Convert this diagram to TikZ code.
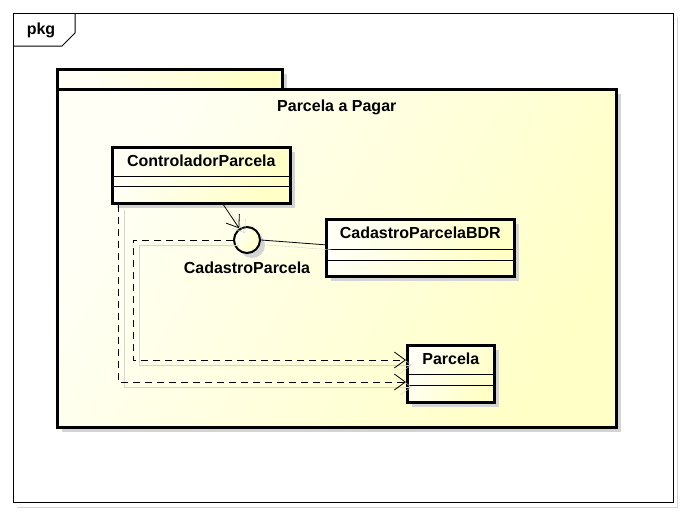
\documentclass[tikz,border=0pt]{standalone}
\usepackage{fontspec}
\setmainfont{Liberation Sans}
\usepackage{tikz}
\usetikzlibrary{arrows.meta, shadows, positioning}

\definecolor{pkgLight}{HTML}{FFFFF6}
\definecolor{pkgDark}{HTML}{FFFFC6}
\definecolor{shadowGray}{HTML}{D4D4D4}

\tikzset{
    umlfont/.style={font=\fontsize{16}{19}\selectfont\bfseries},
    yellowfill/.style={left color=pkgLight, right color=pkgDark, shading angle=60},
    boxshadow/.style={drop shadow={shadow xshift=5pt, shadow yshift=-5pt, fill=shadowGray, opacity=1}},
    classbox/.style={rectangle, draw, line width=2.6pt, yellowfill, boxshadow, inner sep=0pt},
    classname/.style={umlfont, inner sep=0pt, minimum height=30pt},
    lineshadow/.style={preaction={draw=shadowGray, solid, transform canvas={xshift=6pt, yshift=-5pt}}},
    assoc/.style={line width=0.8pt, -{Straight Barb[length=11pt, width=16pt]}},
    dep/.style={line width=0.8pt, dash pattern=on 7pt off 5pt, -{Straight Barb[length=11pt, width=16pt]}, lineshadow},
}

\begin{document}
\begin{tikzpicture}[x=1pt, y=-1pt]
    \useasboundingbox (0,0) rectangle (685,514);
    \fill[white] (0,0) rectangle (685,514);

    % frame
    \draw[shadowGray, line width=0.8pt] (677,17) -- (677,507) -- (17,507);
    \node[draw, line width=1pt, minimum width=660pt, minimum height=489pt, anchor=north west, fill=white] (frame) at (13,13) {};
    \draw[line width=1pt] (frame.north west) ++(0,33) -- ++(49,0) -- ++(13,-13) -- ++(0,-20);
    \node[umlfont] (pkglbl) at (41,30) {pkg};

    % package
    \node[draw, line width=2.6pt, yellowfill, boxshadow, minimum width=225pt, minimum height=20pt, anchor=north west] (pkgtab) at (56,68) {};
    \node[draw, line width=2.6pt, yellowfill, boxshadow, minimum width=559pt, minimum height=338pt, anchor=north west] (pkgbody) at (56,88) {};
    \node[umlfont, below=8pt of pkgbody.north] (pkgname) {Parcela a Pagar};

    % classes
    \node[classbox, minimum width=178pt, minimum height=56pt, anchor=north west] (ctrl) at (111,146) {};
    \node[classname, anchor=north] (ctrlname) at (ctrl.north) {ControladorParcela};
    \draw[line width=0.8pt] ([yshift=-30pt]ctrl.north west) -- ([yshift=-30pt]ctrl.north east);
    \draw[line width=0.8pt] ([yshift=-40pt]ctrl.north west) -- ([yshift=-40pt]ctrl.north east);

    \node[classbox, minimum width=188pt, minimum height=57pt, anchor=north west] (bdr) at (325,218) {};
    \node[classname, anchor=north] (bdrname) at (bdr.north) {CadastroParcelaBDR};
    \draw[line width=0.8pt] ([yshift=-31pt]bdr.north west) -- ([yshift=-31pt]bdr.north east);
    \draw[line width=0.8pt] ([yshift=-42pt]bdr.north west) -- ([yshift=-42pt]bdr.north east);

    \node[classbox, minimum width=87pt, minimum height=57pt, anchor=north west] (parcela) at (406,344) {};
    \node[classname, anchor=north] (parcelaname) at (parcela.north) {Parcela};
    \draw[line width=0.8pt] ([yshift=-30pt]parcela.north west) -- ([yshift=-30pt]parcela.north east);
    \draw[line width=0.8pt] ([yshift=-41pt]parcela.north west) -- ([yshift=-41pt]parcela.north east);

    % interface
    \node[circle, draw, line width=2pt, yellowfill, boxshadow, minimum size=26pt, inner sep=0pt] (iface) at (247,240) {};
    \node[umlfont, below=4pt of iface] (ifacename) {CadastroParcela};

    % connectors
    \coordinate (bendA) at (133,360);
    \coordinate (bendB) at (118,382);

    \draw[line width=0.8pt, lineshadow] (iface.east) -- ([yshift=3pt]bdr.west);
    \draw[assoc, lineshadow] ([xshift=22pt]ctrl.south) -- (iface);
    \draw[dep] (iface.west) -| (bendA) -- (bendA -| parcela.west);
    \draw[dep] (ctrl.south -| bendB) -- (bendB) -- (bendB -| parcela.west);
\end{tikzpicture}
\end{document}
